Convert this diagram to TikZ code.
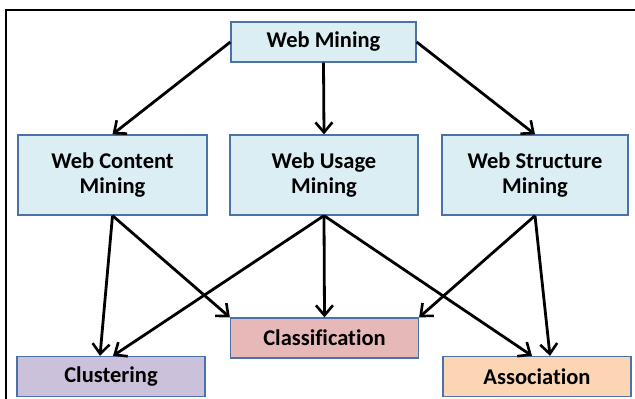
\documentclass[tikz,border=0pt]{standalone}
\usepackage{fontspec}
\setmainfont[Ligatures=NoCommon]{Carlito}
\usetikzlibrary{arrows.meta}
\definecolor{boxblue}{HTML}{DBEEF4}
\definecolor{edgeblue}{HTML}{4A72A8}
\definecolor{pinkfill}{HTML}{E6B9B8}
\definecolor{lilac}{HTML}{CCC1DA}
\definecolor{peach}{HTML}{FCD5B5}
\begin{document}
\begin{tikzpicture}[x=1pt,y=-1pt,
  box/.style={draw=edgeblue,line width=1.3pt,rectangle,inner sep=0pt,align=center,
    font=\fontsize{22.5}{25}\selectfont\bfseries},
  conn/.style={line width=2.8pt,-{Straight Barb[length=10pt,width=17pt,line width=2.6pt]}}]
\useasboundingbox (0,0) rectangle (635,399);
\draw[line width=2pt] (6,399) -- (6,10) -- (635,10);
\node[box,fill=boxblue,minimum width=185pt,minimum height=40pt] (wm) at (323.5,42) {Web Mining};
\node[box,fill=boxblue,minimum width=189pt,minimum height=80pt] (wc) at (112.5,175) {Web Content\\Mining};
\node[box,fill=boxblue,minimum width=188pt,minimum height=80pt] (wu) at (324,175) {Web Usage\\Mining};
\node[box,fill=boxblue,minimum width=186pt,minimum height=80pt] (ws) at (535,175) {Web Structure\\Mining};
\node[box,fill=pinkfill,minimum width=188pt,minimum height=40pt] (cl) at (324.5,338) {Classification};
\node[box,fill=lilac,minimum width=188pt,minimum height=40pt] (cu) at (111,376.5) {Clustering};
\node[box,fill=peach,minimum width=188pt,minimum height=40pt] (as) at (537,376.5) {Association};
\draw[conn] (wm.west) -- (wc.north);
\draw[conn] (wm.south) -- (wu.north);
\draw[conn] (wm.east) -- (ws.north);
\draw[conn] (wc.south) -- ([xshift=-11pt]cu.north);
\draw[conn] (wc.south) -- (cl.north west);
\draw[conn] (wu.south) -- ([xshift=2pt]cu.north);
\draw[conn] (wu.south) -- (cl.north);
\draw[conn] (wu.south) -- ([xshift=-5pt]as.north);
\draw[conn] (ws.south) -- (cl.north east);
\draw[conn] (ws.south) -- ([xshift=13pt]as.north);
\end{tikzpicture}
\end{document}
